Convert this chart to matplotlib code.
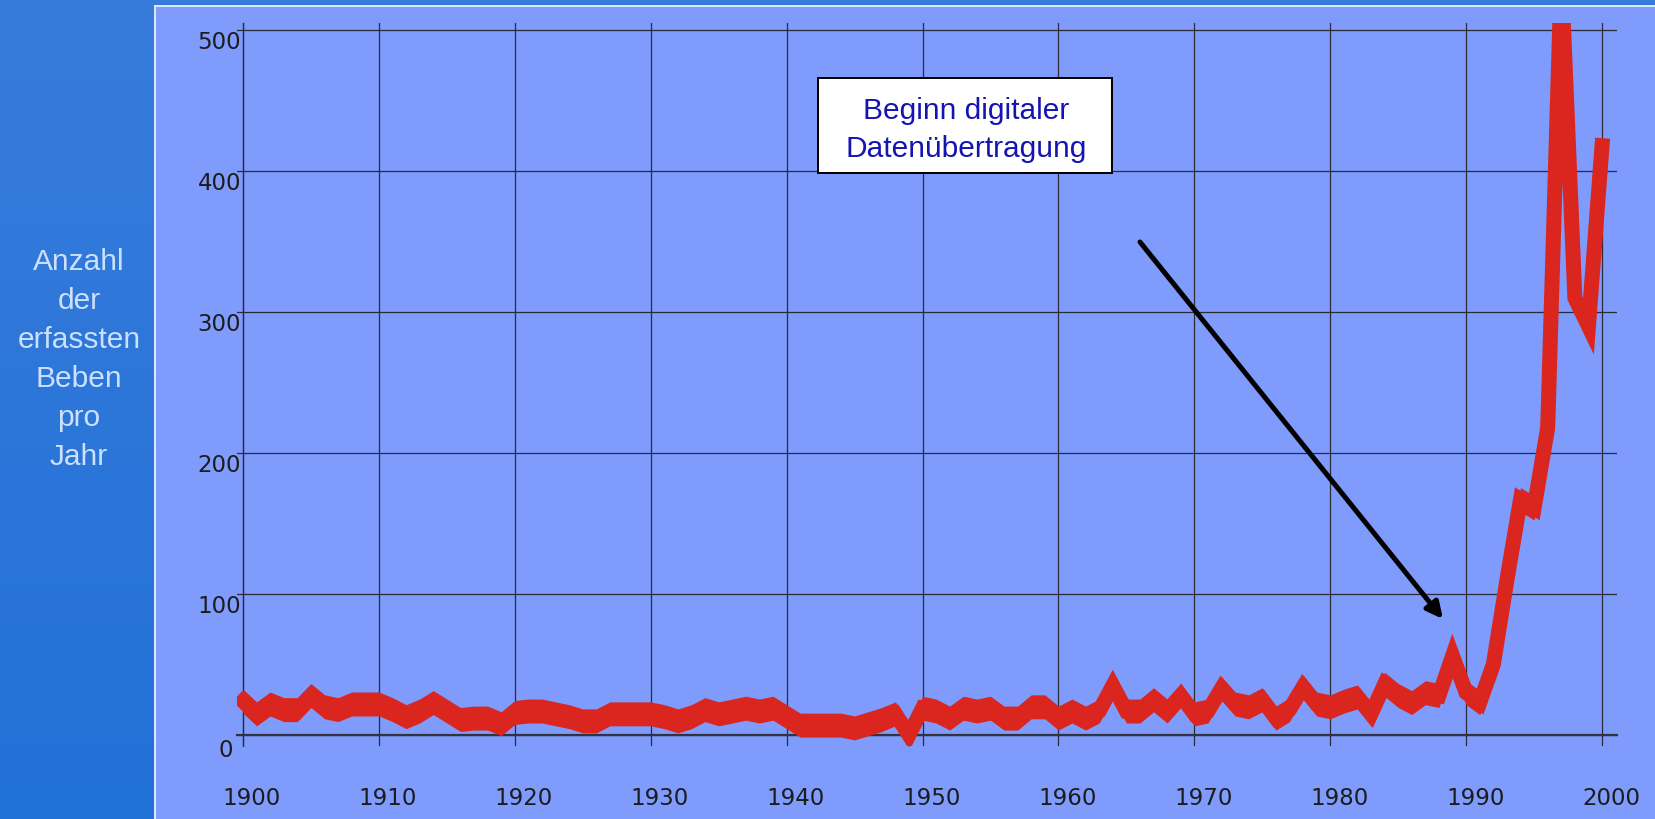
import numpy as np
import matplotlib
matplotlib.use('Agg')
import matplotlib.pyplot as plt
from matplotlib.patches import Rectangle

# data
years = list(range(1900, 2001))
quakes = [24, 15, 22, 18, 18, 28, 20, 18, 22, 22,
          22, 18, 13, 17, 23, 17, 11, 12, 12, 8,
          16, 17, 17, 15, 13, 10, 10, 15, 15, 15,
          15, 13, 10, 13, 18, 15, 17, 19, 17, 19,
          13, 7, 7, 7, 7, 5, 8, 11, 15, 0,
          19, 17, 12, 19, 17, 19, 12, 12, 20, 20,
          12, 17, 12, 17, 35, 17, 17, 25, 17, 28,
          15, 17, 33, 22, 20, 25, 12, 18, 34, 22,
          20, 24, 27, 15, 36, 28, 23, 30, 28, 56,
          30, 23, 50, 110, 167, 161, 218, 540, 310, 290,
          418]
x_ticks = [1900, 1910, 1920, 1930, 1940, 1950, 1960, 1970, 1980, 1990, 2000]
y_ticks = [0, 100, 200, 300, 400, 500]
y_title = 'Anzahl\nder\nerfassten\nBeben\npro\nJahr'
note = 'Beginn digitaler\nDatenübertragung'

W, H = 1655, 820
RED = '#DA261E'
GRID = '#2b2b38'
PX = 0.72  # points per pixel at dpi 100

fig = plt.figure(figsize=(W / 100, H / 100), dpi=100)

###Background and panel (pixel coordinates)
bg = fig.add_axes([0, 0, 1, 1])
bg.set_xlim(0, W)
bg.set_ylim(H, 0)
bg.axis('off')
grad = np.linspace(0, 1, 256).reshape(-1, 1)
cmap = matplotlib.colors.LinearSegmentedColormap.from_list('bgblue', ['#377CDB', '#2271D8'])
bg.imshow(grad, cmap=cmap, extent=(0, W, H, 0), aspect='auto', zorder=0)
bg.add_patch(Rectangle((155, 7), 1600, 900, facecolor='#7F9BFC',
                       edgecolor='#D8E8FF', lw=2 * PX, zorder=1))
bg.text(79, 360, y_title, ha='center', va='center', color='#CCE0FF',
        fontsize=21.5, family='Liberation Sans', linespacing=1.5, zorder=2)

###Main chart (grid lines run a little past the axes, like tick marks)
ax = fig.add_axes([237 / W, (H - 747) / H, (1617 - 237) / W, (747 - 24) / H])
ax.set_facecolor('none')
ax.set_xlim(1900 - 6 / 13.59, 2001.1)
ax.set_ylim(-11 / 1.41, 505)
ax.set_xticks(x_ticks)
ax.set_yticks(y_ticks)
ax.tick_params(labelbottom=False, labelleft=False, length=0)
ax.grid(True, color=GRID, lw=0.9)
ax.set_axisbelow(True)
for s in ['top', 'right']:
    ax.spines[s].set_visible(False)
ax.spines['left'].set_position(('data', 1900))
ax.spines['left'].set_color(GRID)
ax.spines['left'].set_linewidth(0.9)
ax.spines['bottom'].set_position(('data', 0))
ax.spines['bottom'].set_color('#333340')
ax.spines['bottom'].set_linewidth(1.6)

# thick "3d" ribbon line
q = np.array(quakes, dtype=float)
ax.fill_between(years, q - 8.5, q + 8.5, color=RED, lw=0, zorder=3)
ax.plot(years, q, color=RED, lw=15 * PX, solid_joinstyle='miter', zorder=3)

###Tick labels
for yr in x_ticks:
    ax.annotate(str(yr), xy=(yr, 0), xytext=(9 * PX, -51 * PX), textcoords='offset points',
                ha='center', va='top', fontsize=16.5, color='#1c1c1c', annotation_clip=False)
for v in y_ticks:
    off = (-10 * PX, -3 * PX) if v == 0 else (-2 * PX, 0)
    ax.annotate(str(v), xy=(1900, v), xytext=off, textcoords='offset points',
                ha='right', va='top', fontsize=16.5, color='#1c1c1c', annotation_clip=False)

###Note box and arrow
top = fig.add_axes([0, 0, 1, 1])
top.set_xlim(0, W)
top.set_ylim(H, 0)
top.axis('off')
top.add_patch(Rectangle((818, 79), 294, 95, facecolor='white', edgecolor='black', lw=2 * PX))
top.text(966, 130, note, ha='center', va='center', color='#1414B0', fontsize=21.5,
         family='Liberation Sans', linespacing=1.47)
top.annotate('', xy=(1443, 620), xytext=(1140, 243),
             arrowprops=dict(arrowstyle='-|>', lw=5 * PX, color='black',
                             mutation_scale=24, shrinkA=0, shrinkB=0))

fig.savefig('out.png', dpi=100)
